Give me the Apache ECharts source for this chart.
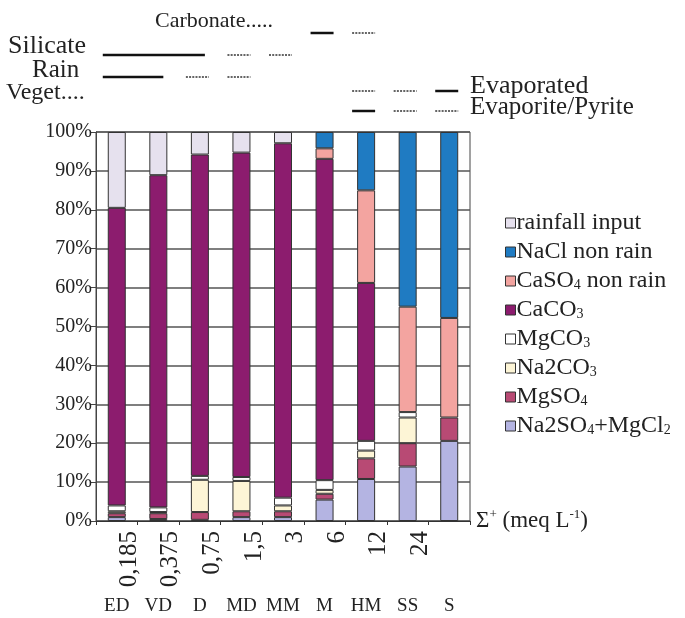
<!DOCTYPE html>
<html><head><meta charset="utf-8">
<script src="https://cdn.jsdelivr.net/npm/echarts@6/dist/echarts.min.js"></script>
<style>html,body{margin:0;padding:0;background:#fff}#c{width:685px;height:618px}</style>
</head><body><div id="c"></div>
<script>
// ---- data ----
const categories = ['ED', 'VD', 'D', 'MD', 'MM', 'M', 'HM', 'SS', 'S'];
const thresholds = ['0,185', '0,375', '0,75', '1,5', '3', '6', '12', '24', ''];
const na2so4Mgcl2 = [1, 0.5, 0.3, 1, 1, 5.5, 10.8, 14, 20.6];
const mgso4 = [1, 1.5, 2, 1.5, 1.5, 1.5, 5.3, 6, 6];
const na2co3 = [0.5, 0.3, 8.3, 7.8, 1.5, 1, 2, 6.6, 0];
const mgco3 = [1.5, 1.2, 1, 1, 2, 2.5, 2.5, 1.4, 0];
const caco3 = [76.5, 85.4, 82.6, 83.4, 91.1, 82.6, 40.6, 0, 0];
const caso4 = [0, 0, 0, 0, 0, 2.7, 23.8, 27.1, 25.6];
const nacl = [0, 0, 0, 0, 0, 4.2, 15, 44.9, 47.8];
const rainfall = [19.5, 11.1, 5.8, 5.3, 2.9, 0, 0, 0, 0];
const yTicks = [0, 10, 20, 30, 40, 50, 60, 70, 80, 90, 100];

// annotation rows: [firstCategory, lastCategory, style]
const annCarbonate = [[5, 5, 'solid'], [6, 6, 'dot']];
const annSilicate = [[0, 2, 'solid'], [3, 3, 'dot'], [4, 4, 'dot']];
const annRain = [[0, 1, 'solid'], [2, 2, 'dot'], [3, 3, 'dot']];
const annEvaporated = [[6, 6, 'dot'], [7, 7, 'dot'], [8, 8, 'solid']];
const annEvaporite = [[6, 6, 'solid'], [7, 7, 'dot'], [8, 8, 'dot']];

const SERIF = '"Liberation Serif", "DejaVu Serif", serif';
const seriesDefs = [
  {name: 'Na2SO4+MgCl2', data: na2so4Mgcl2, color: '#b4b4e2', label: 'Na2SO{s|4}+MgCl{s|2}'},
  {name: 'MgSO4', data: mgso4, color: '#b84a74', label: 'MgSO{s|4}'},
  {name: 'Na2CO3', data: na2co3, color: '#fdf5d6', label: 'Na2CO{s|3}'},
  {name: 'MgCO3', data: mgco3, color: '#ffffff', label: 'MgCO{s|3}'},
  {name: 'CaCO3', data: caco3, color: '#8c1c6e', label: 'CaCO{s|3}'},
  {name: 'CaSO4 non rain', data: caso4, color: '#f3a4a0', label: 'CaSO{s|4} non rain'},
  {name: 'NaCl non rain', data: nacl, color: '#1f7bc2', label: 'NaCl non rain'},
  {name: 'rainfall input', data: rainfall, color: '#e6e1ee', label: 'rainfall input'}
];
const labelMap = {};
seriesDefs.forEach(s => labelMap[s.name] = s.label);

const chart = echarts.init(document.getElementById('c'), null, {renderer: 'canvas'});
const option = {
  animation: false,
  backgroundColor: '#fff',
  grid: {left: 96, right: 215, top: 132, bottom: 97, show: true, borderColor: '#444', borderWidth: 1},
  legend: {
    orient: 'vertical', left: 500, top: 206, itemGap: 5, itemWidth: 10, itemHeight: 10,
    icon: 'rect',
    data: seriesDefs.map(s => s.name).reverse(),
    itemStyle: {borderColor: '#333', borderWidth: 1},
    formatter: n => labelMap[n],
    textStyle: {fontFamily: SERIF, fontSize: 24, color: '#222', lineHeight: 23, padding: [0, 0, 0, -4],
      rich: {s: {fontFamily: SERIF, fontSize: 14, lineHeight: 12, verticalAlign: 'bottom', color: '#222'}}}
  },
  xAxis: [{
    type: 'category', data: categories, position: 'bottom',
    axisLine: {lineStyle: {color: '#333', width: 1}},
    axisTick: {show: true, alignWithLabel: false, length: 4, lineStyle: {color: '#333'}},
    axisLabel: {margin: 76, interval: 0, fontFamily: SERIF, fontSize: 19, color: '#222'},
    name: '{a|Σ}{p|+}{a| (meq L}{p|-1}{a|)}', nameLocation: 'end', nameGap: 6,
    nameTextStyle: {fontFamily: SERIF, fontSize: 23, color: '#222', rich: {
      a: {fontFamily: SERIF, fontSize: 23, color: '#222', lineHeight: 26},
      p: {fontFamily: SERIF, fontSize: 13, color: '#222', lineHeight: 14, verticalAlign: 'top'}}}
  }, {
    type: 'category', data: thresholds, position: 'bottom',
    axisLine: {show: false}, axisTick: {show: false}, splitLine: {show: false},
    axisLabel: {rotate: 90, interval: 0, margin: 10, verticalAlign: 'top', align: 'right',
      fontFamily: SERIF, fontSize: 25, color: '#222'}
  }],
  yAxis: {
    type: 'value', min: 0, max: 100, interval: 10,
    axisLine: {show: true, lineStyle: {color: '#444'}},
    axisTick: {show: true, length: 5, lineStyle: {color: '#444'}},
    axisLabel: {fontFamily: SERIF, fontSize: 20, color: '#222', margin: 4,
      formatter: v => yTicks.indexOf(v) >= 0 ? v + '%' : ''},
    splitLine: {lineStyle: {color: '#555', width: 1.5}}
  },
  series: seriesDefs.map(s => ({
    name: s.name, type: 'bar', stack: 'all', barWidth: 18, xAxisIndex: 0,
    data: s.data.map(v => v === 0 ? '-' : v),
    itemStyle: {color: s.color, borderColor: '#333', borderWidth: 1}
  }))
};
chart.setOption(option);

// annotations placed from the category axis
const px = i => chart.convertToPixel({xAxisIndex: 0}, categories[i]);
const g = [];
function row(segs, y) {
  segs.forEach(([a, b, st]) => {
    const x1 = px(a) - 14, x2 = px(b) + (a === b ? 9 : 5);
    g.push({type: 'line', shape: {x1, y1: y, x2, y2: y},
      style: st === 'solid' ? {stroke: '#111', lineWidth: 2.5} : {stroke: '#333', lineWidth: 1.5, lineDash: [2, 1.2]}});
  });
}
function txt(t, x, y, size) {
  g.push({type: 'text', style: {text: t, x, y, font: (size || 25) + 'px ' + SERIF, fill: '#222',
    textAlign: 'left', textVerticalAlign: 'middle'}});
}
txt('Carbonate.....', 155, 21, 22);
row(annCarbonate, 33);
txt('Silicate', 8, 46, 26);
row(annSilicate, 55);
txt('Rain', 32, 70);
row(annRain, 77);
txt('Veget....', 6, 93, 24);
row(annEvaporated, 91);
txt('Evaporated', 470, 86, 26);
row(annEvaporite, 111);
txt('Evaporite/Pyrite', 470, 107);
chart.setOption({graphic: g});
</script></body></html>
